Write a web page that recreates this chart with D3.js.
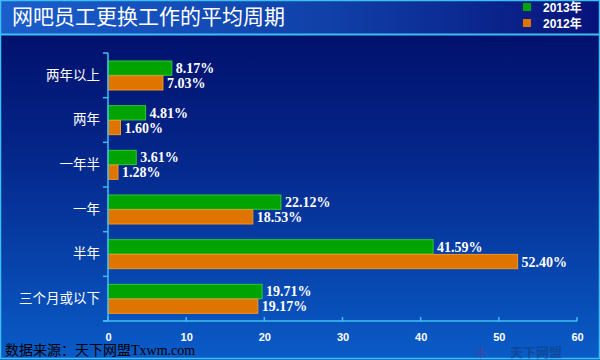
<!DOCTYPE html>
<html>
<head>
<meta charset="utf-8">
<script src="https://cdn.jsdelivr.net/npm/d3@7"></script>
<style>
body { margin: 0; padding: 0; }
svg { display: block; }
</style>
</head>
<body>
<div id="chart"></div>
<script>
var categories = ["两年以上", "两年", "一年半", "一年", "半年", "三个月或以下"];
var seriesNames = ["2013年", "2012年"];
var values2013 = [8.17, 4.81, 3.61, 22.12, 41.59, 19.71];
var values2012 = [7.03, 1.60, 1.28, 18.53, 52.40, 19.17];
var xTicks = [0, 10, 20, 30, 40, 50, 60];
var colors = ["#00a300", "#e07400"];
var strokes = ["#30c830", "#f09820"];

var W = 600, H = 360;
var margin = { top: 53, left: 108, right: 23, bottom: 39 };

var svg = d3.select("#chart").append("svg")
	.attr("width", W)
	.attr("height", H);

// gradients
var defs = svg.append("defs");
var bg = defs.append("linearGradient").attr("id", "bgGrad")
	.attr("x1", 0).attr("y1", 0).attr("x2", 0).attr("y2", 1);
bg.append("stop").attr("offset", "0%").style("stop-color", "#000a64");
bg.append("stop").attr("offset", "45%").style("stop-color", "#04288c");
bg.append("stop").attr("offset", "100%").style("stop-color", "#0a5cc8");

var tg = defs.append("linearGradient").attr("id", "titleGrad")
	.attr("x1", 0).attr("y1", 0).attr("x2", 1).attr("y2", 0);
tg.append("stop").attr("offset", "0%").style("stop-color", "#1a5ecc");
tg.append("stop").attr("offset", "55%").style("stop-color", "#1040a8");
tg.append("stop").attr("offset", "100%").style("stop-color", "#06127a");

svg.append("rect").attr("x", 0).attr("y", 0).attr("width", W).attr("height", H)
	.attr("fill", "url(#bgGrad)");
svg.append("rect").attr("x", 0).attr("y", 0).attr("width", W).attr("height", 34)
	.attr("fill", "url(#titleGrad)");
svg.append("line").attr("x1", 0).attr("x2", W).attr("y1", 34.5).attr("y2", 34.5)
	.attr("stroke", "#3cc0f0").attr("stroke-width", 2);
// outer border
svg.append("rect").attr("x", 0.5).attr("y", 0.5).attr("width", W - 1).attr("height", H - 2)
	.attr("fill", "none").attr("stroke", "#3cc0f0").attr("stroke-width", 1.5);

// title
svg.append("text")
	.attr("x", 12).attr("y", 24)
	.attr("fill", "#ffffff")
	.style("font-family", "'Noto Sans CJK SC', sans-serif")
	.style("font-size", "21px")
	.text("网吧员工更换工作的平均周期");

// legend
var legend = svg.append("g").selectAll("g").data(seriesNames).enter().append("g")
	.attr("transform", function (d, i) { return "translate(523," + (3 + i * 16) + ")"; });
legend.append("rect").attr("width", 8).attr("height", 8)
	.attr("fill", function (d, i) { return colors[i]; });
legend.append("text").attr("x", 20).attr("y", 9)
	.attr("fill", "#ffffff")
	.style("font-family", "'Liberation Sans', 'Noto Sans CJK SC', sans-serif")
	.style("font-weight", "bold")
	.style("font-size", "12px")
	.text(function (d) { return d; });

// scales
var x = d3.scaleLinear().domain([0, 60]).range([margin.left, W - margin.right]);
var y = d3.scaleBand().domain(categories).range([margin.top, H - margin.bottom]);
var y1 = d3.scaleBand().domain(seriesNames).range([8, 37]).paddingInner(0.03);

// watermark, kept clear of the tick labels
var wm = svg.append("g").attr("opacity", 0.35);
wm.append("text").attr("x", 474).attr("y", 357)
	.attr("fill", "#8a2a6a")
	.style("font-family", "'Noto Sans CJK SC', sans-serif")
	.style("font-size", "14px")
	.text("木");
wm.append("text").attr("x", 510).attr("y", 357)
	.attr("fill", "#1a2a50")
	.style("font-family", "'Noto Sans CJK SC', sans-serif")
	.style("font-weight", "bold")
	.style("font-size", "13px")
	.text("天下网盟");

// bars
var rows = categories.map(function (c, i) { return { cat: c, vals: [values2013[i], values2012[i]] }; });
var groups = svg.append("g").selectAll(".row").data(rows).enter().append("g")
	.attr("class", "row")
	.attr("transform", function (d) { return "translate(0," + y(d.cat) + ")"; });

groups.selectAll("rect").data(function (d) {
	return d.vals.map(function (v, i) { return { v: v, s: seriesNames[i], i: i }; });
}).enter().append("rect")
	.attr("x", x(0))
	.attr("y", function (d) { return y1(d.s); })
	.attr("width", function (d) { return x(d.v) - x(0); })
	.attr("height", y1.bandwidth())
	.attr("fill", function (d) { return colors[d.i]; })
	.attr("stroke", function (d) { return strokes[d.i]; })
	.attr("stroke-width", 1);

groups.selectAll("text").data(function (d) {
	return d.vals.map(function (v, i) { return { v: v, s: seriesNames[i], i: i }; });
}).enter().append("text")
	.attr("x", function (d) { return x(d.v) + 4; })
	.attr("y", function (d) { return y1(d.s) + y1.bandwidth() / 2 + 5; })
	.attr("fill", "#ffffff")
	.style("font-family", "'Liberation Serif', serif")
	.style("font-weight", "bold")
	.style("font-size", "14px")
	.text(function (d) { return d.v.toFixed(2) + "%"; });

// axes
var yAxis = d3.axisLeft(y).tickSize(0).tickPadding(8);
var yg = svg.append("g").attr("transform", "translate(" + x(0) + ",0)").call(yAxis);
yg.select(".domain").remove();
yg.selectAll("text")
	.attr("fill", "#ffffff")
	.style("font-family", "'Noto Sans CJK SC', sans-serif")
	.style("font-size", "13.5px");

// y axis line and tick marks at band edges
var edges = categories.map(function (c) { return y(c); }).concat([H - margin.bottom]);
svg.append("line").attr("x1", x(0)).attr("x2", x(0))
	.attr("y1", margin.top).attr("y2", H - margin.bottom)
	.attr("stroke", "#3cc0f0").attr("stroke-width", 1.5);
svg.append("g").selectAll("line").data(edges).enter().append("line")
	.attr("x1", x(0) - 5).attr("x2", x(0))
	.attr("y1", function (d) { return d; }).attr("y2", function (d) { return d; })
	.attr("stroke", "#3cc0f0").attr("stroke-width", 1.5);

var xAxis = d3.axisBottom(x).tickValues(xTicks).tickSize(0).tickPadding(12);
var xg = svg.append("g").attr("transform", "translate(0," + (H - margin.bottom) + ")").call(xAxis);
xg.select(".domain").remove();
xg.selectAll("text")
	.attr("fill", "#ffffff")
	.style("font-family", "'Liberation Sans', sans-serif")
	.style("font-weight", "bold")
	.style("font-size", "11px");
svg.append("line").attr("x1", x(0) - 5).attr("x2", x(60))
	.attr("y1", H - margin.bottom).attr("y2", H - margin.bottom)
	.attr("stroke", "#3cc0f0").attr("stroke-width", 1.5);
svg.append("g").selectAll("line").data(xTicks).enter().append("line")
	.attr("x1", function (d) { return x(d); }).attr("x2", function (d) { return x(d); })
	.attr("y1", H - margin.bottom - 4).attr("y2", H - margin.bottom)
	.attr("stroke", "#3cc0f0").attr("stroke-width", 1.5);

// source
svg.append("text")
	.attr("x", 5).attr("y", 355)
	.attr("fill", "#000000")
	.style("font-family", "'Liberation Serif', 'Noto Sans CJK SC', serif")
	.style("font-size", "14px")
	.text("数据来源：天下网盟Txwm.com");
</script>
</body>
</html>
